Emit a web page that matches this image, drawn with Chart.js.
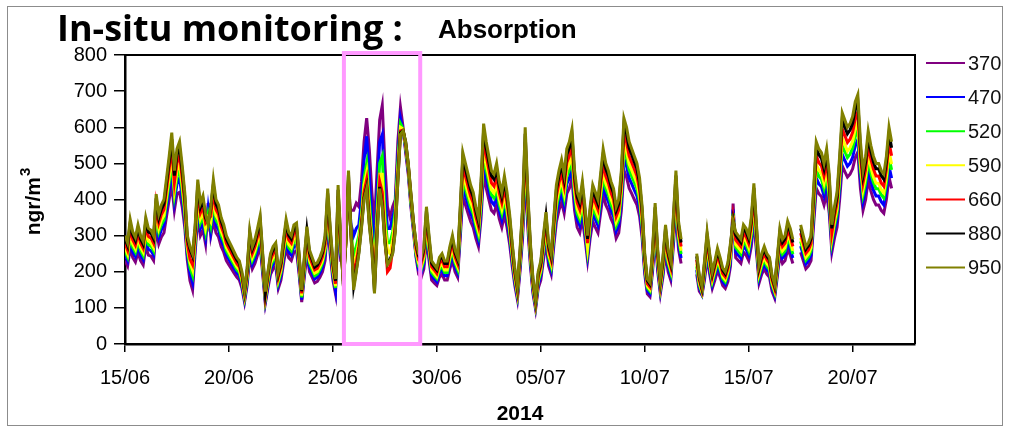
<!DOCTYPE html>
<html>
<head>
<meta charset="utf-8">
<title>In-situ monitoring : Absorption</title>
<script src="https://cdn.jsdelivr.net/npm/chart.js@4.4.1/dist/chart.umd.min.js"></script>
<style>
  html, body { margin: 0; padding: 0; background: #fff; }
  #chart { display: block; }
</style>
</head>
<body>
<canvas id="chart" width="1009" height="433"></canvas>
<script>
// one value every 3 hours from 15/06/2014 00:00, null = no data
const STEP_DAYS = 0.125;
const wavelengths = ['370', '470', '520', '590', '660', '880', '950'];
const colors = ['#800080', '#0000ff', '#00ff00', '#ffff00', '#ff0000', '#000000', '#808000'];
const tickLabels = ['15/06', '20/06', '25/06', '30/06', '05/07', '10/07', '15/07', '20/07'];
const highlightDays = [10.53, 14.2];   // pink box (25/06 -> 29/06)

const s370 = [
  231,216,266,239,227,254,231,219, 270,246,243,231,320,277,296,308,
  354,400,440,370,416,420,381,323, 231,175,150,254,350,300,316,277,
  390,300,340,308,296,270,254,231, 219,208,196,185,177,154,116,162,
  243,208,223,246,273,193,112,154, 193,208,216,154,177,223,266,239,
  231,254,258,193,116,185,250,200, 185,169,173,185,200,231,331,246,
  177,139,339,231,230,330,390,370, 370,390,380,450,560,625,540,420,
  330,480,620,660,500,380,350,380, 400,560,655,600,530,470,380,310,
  240,193,185,208,293,231,177,169, 162,185,193,177,177,208,231,200,
  185,293,408,385,362,339,323,293, 270,347,470,431,400,370,362,385,
  347,323,358,323,277,216,162,123, 200,293,462,323,216,139,96,154,
  177,231,281,216,193,270,339,370, 393,362,416,431,458,370,323,308,
  347,293,231,293,339,323,308,362, 416,385,370,347,331,293,308,370,
  481,462,431,416,400,385,354,293, 193,139,131,200,300,200,139,185,
  254,200,177,270,370,262,223,null, null,null,null,null,193,146,135,177,
  239,193,154,177,204,185,162,154, 173,216,389,239,231,223,254,246,
  231,270,343,254,169,193,208,193, 185,146,127,185,246,223,231,262,
  246,223,null,null,254,231,208,216, 231,331,431,416,408,385,416,362,
  254,293,323,400,493,477,462,470, 485,516,531,431,370,400,454,424,
  400,385,385,370,362,400,462,431
];
const s470 = [
  246,230,283,254,242,271,246,234, 287,262,258,246,340,295,316,328,
  377,426,480,394,443,459,406,344, 246,195,170,271,373,320,336,295,
  375,312,373,328,316,287,271,246, 234,221,209,197,189,164,123,172,
  258,221,238,262,291,205,119,164, 205,221,230,164,189,238,283,254,
  246,271,275,205,123,197,267,213, 197,180,185,197,213,246,353,262,
  189,148,361,246,210,300,410,330, 300,320,330,400,510,575,470,350,
  260,420,560,580,420,320,320,350, 380,520,625,590,540,480,390,320,
  245,205,197,221,312,246,189,180, 172,197,205,189,189,221,246,213,
  197,312,435,410,385,361,344,312, 287,369,500,459,426,394,385,410,
  369,344,381,344,295,230,172,131, 213,312,492,344,230,148,103,164,
  189,246,299,230,205,287,361,394, 418,385,443,459,488,394,344,328,
  369,312,246,312,361,344,328,385, 443,410,394,369,353,312,328,394,
  513,492,459,443,426,410,377,312, 205,148,139,213,320,213,148,197,
  271,213,189,287,394,279,238,null, null,null,null,null,205,156,138,189,
  254,205,164,189,217,197,172,164, 185,230,372,254,246,238,271,262,
  246,287,365,271,180,205,221,205, 197,156,135,197,262,238,246,279,
  262,238,null,null,271,246,221,230, 246,353,459,443,435,410,443,385,
  271,312,344,426,525,508,492,500, 517,549,566,459,394,426,484,451,
  426,410,410,394,385,426,492,459
];
const s520 = [
  258,241,297,267,254,284,258,245, 301,275,271,258,357,310,331,344,
  396,447,503,413,464,482,426,361, 258,212,190,284,391,335,353,310,
  360,327,391,344,331,301,284,258, 245,232,219,206,198,172,129,181,
  271,232,249,275,305,215,125,172, 215,232,241,172,198,249,297,267,
  258,284,288,215,129,206,280,224, 206,189,194,206,224,258,370,275,
  198,155,378,258,195,290,430,310, 240,270,300,360,460,500,400,300,
  220,370,500,520,360,280,280,310, 370,500,610,595,545,485,395,325,
  250,215,206,232,327,258,198,189, 181,206,215,198,198,232,258,224,
  206,327,456,430,404,378,361,327, 301,387,525,482,447,413,404,430,
  387,361,400,361,310,241,181,138, 224,327,516,361,241,155,108,172,
  198,258,314,241,215,301,378,413, 439,404,464,482,512,413,361,344,
  387,327,258,327,378,361,344,404, 464,430,413,387,370,327,344,413,
  538,516,482,464,447,430,396,327, 215,155,146,224,335,224,155,206,
  284,224,198,301,413,292,249,null, null,null,null,null,215,163,142,198,
  267,215,172,198,228,206,181,172, 194,241,362,267,258,249,284,275,
  258,301,383,284,189,215,232,215, 206,163,142,206,275,249,258,292,
  275,249,null,null,284,258,232,241, 258,370,482,464,456,430,464,404,
  284,327,361,447,550,533,516,525, 542,576,593,482,413,447,507,473,
  447,430,430,413,404,447,516,482
];
const s590 = [
  267,249,307,276,263,294,267,254, 312,285,280,267,369,320,343,356,
  409,463,521,427,481,498,441,374, 267,225,205,294,405,347,365,320,
  350,338,405,356,343,312,294,267, 254,240,227,214,205,178,134,187,
  280,240,258,285,316,223,129,178, 223,240,249,178,205,258,307,276,
  267,294,298,223,134,214,289,231, 214,196,200,214,231,267,383,285,
  205,160,392,267,185,285,445,305, 210,245,285,345,440,475,370,285,
  190,345,470,470,330,260,250,290, 350,480,600,595,550,490,400,330,
  255,223,214,240,338,267,205,196, 187,214,223,205,205,240,267,231,
  214,338,472,445,418,392,374,338, 312,401,543,498,463,427,418,445,
  401,374,414,374,320,249,187,142, 231,338,534,374,249,160,111,178,
  205,267,325,249,223,312,392,427, 454,418,481,498,530,427,374,356,
  401,338,267,338,392,374,356,418, 481,445,427,401,383,338,356,427,
  556,534,498,481,463,445,409,338, 223,160,151,231,347,231,160,214,
  294,231,205,312,427,303,258,null, null,null,null,null,223,169,145,205,
  276,223,178,205,236,214,187,178, 200,249,355,276,267,258,294,285,
  267,312,396,294,196,223,240,223, 214,169,147,214,285,258,267,303,
  285,258,null,null,294,267,240,249, 267,383,498,481,472,445,481,418,
  294,338,374,463,570,552,534,543, 561,596,614,498,427,463,525,490,
  463,445,445,427,418,463,534,498
];
const s660 = [
  279,260,321,288,274,307,279,265, 326,298,293,279,386,335,358,372,
  428,484,544,446,502,521,460,391, 279,235,220,307,423,363,381,335,
  345,353,423,372,358,326,307,279, 265,251,237,223,214,186,140,195,
  293,251,270,298,330,233,135,186, 233,251,260,186,214,270,321,288,
  279,307,312,233,140,223,302,242, 223,205,209,223,242,279,400,298,
  214,167,409,279,175,280,455,300, 190,225,270,335,420,455,350,275,
  165,325,450,420,300,200,210,260, 330,465,590,592,555,495,410,335,
  265,233,223,251,353,279,214,205, 195,223,233,214,214,251,279,242,
  223,353,493,465,437,409,391,353, 326,419,567,521,484,446,437,465,
  419,391,432,391,335,260,195,149, 242,353,558,391,260,167,116,186,
  214,279,339,260,233,326,409,446, 474,437,502,521,553,446,391,372,
  419,353,279,353,409,391,372,437, 502,465,446,419,400,353,372,446,
  581,558,521,502,484,465,428,353, 233,167,158,242,363,242,167,223,
  307,242,214,326,446,316,270,null, null,null,null,null,233,177,150,214,
  288,233,186,214,246,223,195,186, 209,260,348,288,279,270,307,298,
  279,326,414,307,205,233,251,233, 223,177,153,223,298,270,279,316,
  298,270,null,null,307,279,251,260, 279,400,521,502,493,465,502,437,
  307,353,391,484,595,577,558,567, 586,623,642,521,446,484,549,512,
  484,465,465,446,437,484,558,521
];
const s880 = [
  291,272,335,301,286,320,291,276, 340,310,306,291,403,349,373,388,
  446,504,567,466,524,543,480,407, 291,262,243,320,441,378,398,349,
  335,375,441,388,373,340,320,291, 276,262,247,233,223,194,146,204,
  306,262,281,310,344,243,141,194, 243,262,272,194,223,281,335,301,
  291,320,325,243,146,233,315,252, 233,213,218,233,252,291,417,310,
  223,175,427,291,165,280,470,300, 160,205,255,325,405,435,335,265,
  145,305,435,385,285,222,235,252, 315,452,585,591,560,498,415,338,
  275,243,233,262,369,291,223,213, 204,233,243,223,223,262,291,252,
  233,369,514,485,456,427,407,369, 340,437,592,543,504,466,456,485,
  437,407,451,407,349,272,204,155, 252,369,582,407,272,175,121,194,
  223,291,354,272,243,340,427,466, 495,456,524,543,577,466,407,388,
  437,369,291,369,427,407,388,456, 524,485,466,437,417,369,388,466,
  606,582,543,524,504,485,446,369, 243,175,165,252,378,252,175,233,
  320,252,223,340,466,330,281,null, null,null,null,null,243,184,155,223,
  301,243,194,223,257,233,204,194, 218,272,342,301,291,281,320,310,
  291,340,432,320,213,243,262,243, 233,184,160,233,310,281,291,330,
  310,281,null,null,320,291,262,272, 291,417,543,524,514,485,524,456,
  320,369,407,504,621,601,582,592, 611,650,669,543,466,504,572,534,
  504,485,485,466,456,504,582,543
];
const s950 = [
  300,280,345,310,295,330,300,285, 350,320,315,300,415,360,385,400,
  460,520,585,480,540,560,495,420, 300,270,250,330,455,390,410,360,
  330,380,455,400,385,350,330,300, 285,270,255,240,230,200,150,210,
  315,270,290,320,355,250,145,200, 250,270,280,200,230,290,345,310,
  300,330,335,250,150,240,325,260, 240,220,225,240,260,300,430,320,
  230,180,440,300,160,280,480,300, 150,200,250,320,400,430,330,260,
  140,300,430,380,280,220,230,250, 310,450,580,590,560,500,420,340,
  280,250,240,270,380,300,230,220, 210,240,250,230,230,270,300,260,
  240,380,530,500,470,440,420,380, 350,450,610,560,520,480,470,500,
  450,420,465,420,360,280,210,160, 260,380,600,420,280,180,125,200,
  230,300,365,280,250,350,440,480, 510,470,540,560,595,480,420,400,
  450,380,300,380,440,420,400,470, 540,500,480,450,430,380,400,480,
  625,600,560,540,520,500,460,380, 250,180,170,260,390,260,180,240,
  330,260,230,350,480,340,290,null, null,null,null,null,250,190,160,230,
  310,250,200,230,265,240,210,200, 225,280,340,310,300,290,330,320,
  300,350,445,330,220,250,270,250, 240,190,165,240,320,290,300,340,
  320,290,null,null,330,300,270,280, 300,430,560,540,530,500,540,470,
  330,380,420,520,640,620,600,610, 630,670,690,560,480,520,590,550,
  520,500,500,480,470,520,600,560
];

const allSeries = [s370, s470, s520, s590, s660, s880, s950];
const FONT = '"Liberation Sans", Arial, sans-serif';

function toPoints(values) {
  return values.map((v, i) => ({ x: i * STEP_DAYS, y: v }));
}

// 950 first so it is drawn on top, like the original
const datasets = allSeries.map((vals, i) => ({
  label: wavelengths[i],
  data: toPoints(vals),
  borderColor: colors[i],
  backgroundColor: colors[i],
  borderWidth: 3,
  pointRadius: 0,
  tension: 0,
  spanGaps: false
})).reverse();

// titles, axis titles, legend, frame and highlight box
const decorations = {
  id: 'decorations',
  beforeDraw(chart) {
    const ctx = chart.ctx;
    ctx.save();
    ctx.fillStyle = '#fff';
    ctx.fillRect(0, 0, chart.width, chart.height);
    ctx.strokeStyle = '#8c8c8c';
    ctx.lineWidth = 1;
    ctx.strokeRect(7.5, 6.5, 995, 419);
    ctx.restore();
  },
  afterDatasetsDraw(chart) {
    const ctx = chart.ctx;
    const area = chart.chartArea;
    const xs = chart.scales.x, ys = chart.scales.y;
    ctx.save();
    // top and right edges of the plot frame
    ctx.strokeStyle = '#000';
    ctx.lineWidth = 2;
    ctx.beginPath();
    ctx.moveTo(area.left, area.top);
    ctx.lineTo(area.right, area.top);
    ctx.lineTo(area.right, area.bottom);
    ctx.stroke();

    // pink box
    const x1 = xs.getPixelForValue(highlightDays[0]);
    const x2 = xs.getPixelForValue(highlightDays[1]);
    const y1 = ys.getPixelForValue(ys.max) - 2;
    const y2 = ys.getPixelForValue(0);
    ctx.strokeStyle = '#ff99ff';
    ctx.lineWidth = 4;
    ctx.strokeRect(x1, y1, x2 - x1, y2 - y1);
    ctx.restore();
  },
  afterDraw(chart) {
    const ctx = chart.ctx;
    const area = chart.chartArea;
    ctx.save();
    ctx.fillStyle = '#000';
    ctx.textBaseline = 'alphabetic';

    ctx.font = 'bold 36px "Open Sans", sans-serif';
    ctx.textAlign = 'left';
    ctx.fillText('In-situ monitoring :', 57, 41);
    ctx.font = 'bold 26px ' + FONT;
    ctx.fillText('Absorption', 438, 38);

    // y axis title, with a raised "3"
    ctx.save();
    ctx.translate(40, 202);
    ctx.rotate(-Math.PI / 2);
    ctx.font = 'bold 21px ' + FONT;
    const main = 'ngr/m';
    const wMain = ctx.measureText(main).width;
    ctx.font = 'bold 15px ' + FONT;
    const wSup = ctx.measureText('3').width;
    const x0 = -(wMain + wSup) / 2;
    ctx.textAlign = 'left';
    ctx.font = 'bold 21px ' + FONT;
    ctx.fillText(main, x0, 0);
    ctx.font = 'bold 15px ' + FONT;
    ctx.fillText('3', x0 + wMain + 1, -10);
    ctx.restore();

    // x axis title
    ctx.textAlign = 'center';
    ctx.font = 'bold 21px ' + FONT;
    ctx.fillText('2014', (area.left + area.right) / 2, 420);

    // legend
    ctx.textAlign = 'left';
    ctx.textBaseline = 'middle';
    ctx.font = '20px ' + FONT;
    wavelengths.forEach((w, i) => {
      const y = 63 + i * 34.1;
      ctx.strokeStyle = colors[i];
      ctx.lineWidth = 2;
      ctx.beginPath();
      ctx.moveTo(area.right + 11, y);
      ctx.lineTo(area.right + 50, y);
      ctx.stroke();
      ctx.fillStyle = '#111';
      ctx.fillText(w, area.right + 53, y + 1);
    });
    ctx.restore();
  }
};

new Chart(document.getElementById('chart'), {
  type: 'line',
  data: { datasets: datasets },
  options: {
    responsive: false,
    animation: false,
    devicePixelRatio: 1,
    layout: { padding: { left: 0, top: 55, right: 94, bottom: 0 } },
    plugins: {
      legend: { display: false },
      title: { display: false },
      tooltip: { enabled: false }
    },
    scales: {
      x: {
        type: 'linear',
        min: 0,
        max: 38,
        afterFit: function(scale) { scale.height = 89; },
        afterBuildTicks: function(scale) {
          scale.ticks = scale.ticks.filter(t => t.value % 5 === 0);
        },
        ticks: {
          stepSize: 5,
          padding: 14,
          color: '#000',
          font: { family: FONT, size: 20 },
          maxRotation: 0,
          callback: function(value) { return tickLabels[value / 5]; }
        },
        grid: { drawOnChartArea: false, tickLength: 8, color: '#000', lineWidth: 1.5 },
        border: { display: true, color: '#000', width: 2.5 }
      },
      y: {
        min: 0,
        max: 800,
        afterFit: function(scale) { scale.width = 125; },
        ticks: {
          stepSize: 100,
          padding: 7,
          color: '#000',
          font: { family: FONT, size: 20 }
        },
        grid: { drawOnChartArea: false, tickLength: 11, color: '#000', lineWidth: 1.5 },
        border: { display: true, color: '#000', width: 2.5 }
      }
    }
  },
  plugins: [decorations]
});
</script>
</body>
</html>
